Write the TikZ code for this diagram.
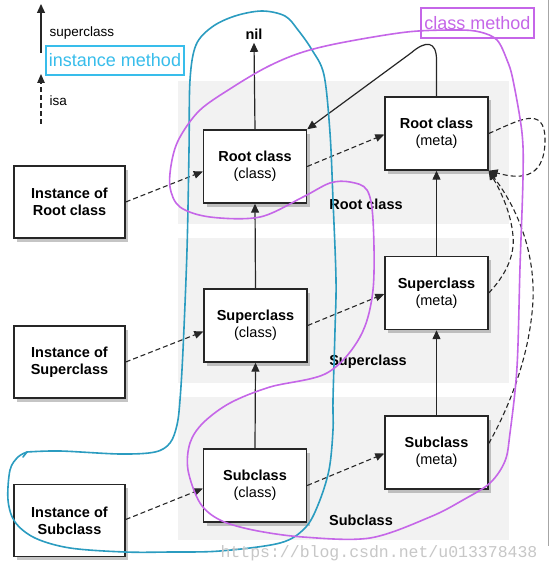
\documentclass[tikz,border=0pt]{standalone}
\usepackage{fontspec}
\setmainfont{Liberation Sans}
\newfontfamily\wmfont{Liberation Mono}
\usetikzlibrary{arrows.meta,shadows}
\definecolor{cmpurple}{HTML}{C566E8}
\definecolor{imblue}{HTML}{2B9CC0}
\definecolor{imcyan}{HTML}{38BDEB}
\definecolor{bandgray}{HTML}{F2F2F2}
\begin{document}
\begin{tikzpicture}[x=1pt,y=-1pt,
  cbox/.style={draw=black!85, line width=1.4pt, fill=white, align=center, inner sep=2pt,
    minimum width=103pt, minimum height=73pt,
    drop shadow={shadow xshift=3pt, shadow yshift=-3.5pt, opacity=0.45},
    font=\fontsize{14.5}{17}\selectfont},
  ibox/.style={cbox, minimum width=111pt, minimum height=72pt},
  lbl/.style={font=\fontsize{14.5}{17}\selectfont\bfseries},
  sup/.style={draw=black!85, line width=1.2pt, -{Triangle[length=9pt,width=8pt]}},
  isa/.style={draw=black!85, line width=1.1pt, dash pattern=on 5pt off 3pt, -{Triangle[length=9pt,width=7.5pt]}},
  hand/.style={line width=1.6pt, line cap=round, line join=round}
]
\fill[white] (0,0) rectangle (550,575);
\useasboundingbox (0,0) rectangle (550,575);
% bands
\fill[bandgray] (178,81) rectangle (509,224);
\fill[bandgray] (178,238) rectangle (509,383);
\fill[bandgray] (178,397) rectangle (509,540);
\draw[black!35, line width=1pt] (548.5,0) -- (548.5,546);
% band labels
\node[lbl] (lroot) at (366,204) {Root class};
\node[lbl] (lsuper) at (368,362) {Superclass};
\node[lbl] (lsub) at (361,520) {Subclass};
% legend
\coordinate (lsa) at (41,53);
\coordinate (lsb) at (41,4);
\draw[sup] (lsa) -- (lsb);
\coordinate (lia) at (41,124);
\coordinate (lib) at (41,74);
\draw[isa] (lia) -- (lib);
\node[anchor=west, font=\fontsize{13.5}{16}\selectfont] (tsup) at (46,33) {superclass};
\node[anchor=west, font=\fontsize{13.5}{16}\selectfont] (tisa) at (46,101) {isa};
\node[draw=imcyan, line width=1.6pt, text=imcyan, minimum width=138pt, minimum height=29pt, inner sep=1pt,
  font=\fontsize{18}{20}\selectfont] (im) at (115,60.5) {instance method};
\node[draw=cmpurple, line width=1.6pt, text=cmpurple, minimum width=113pt, minimum height=30pt, inner sep=1pt,
  font=\fontsize{18}{20}\selectfont] (cm) at (477.5,23) {class method};
% nodes
\node[ibox] (ir) at (69.5,202) {\textbf{Instance of}\\\textbf{Root class}};
\node[ibox] (is) at (69.5,362) {\textbf{Instance of}\\\textbf{Superclass}};
\node[ibox] (ib) at (69.5,520.5) {\textbf{Instance of}\\\textbf{Subclass}};
\node[cbox] (rc) at (255,166.5) {\textbf{Root class}\\(class)};
\node[cbox] (sc) at (255.5,325.5) {\textbf{Superclass}\\(class)};
\node[cbox] (bc) at (255,485.5) {\textbf{Subclass}\\(class)};
\node[cbox] (rm) at (436.5,133.5) {\textbf{Root class}\\(meta)};
\node[cbox] (sm) at (436.5,293) {\textbf{Superclass}\\(meta)};
\node[cbox] (bm) at (436.5,452.5) {\textbf{Subclass}\\(meta)};
\node[font=\fontsize{14.5}{17}\selectfont\bfseries] (nil) at (254,34) {nil};
% superclass arrows
\draw[sup] (rc.north) -- (nil.south);
\draw[sup] (sc.north) -- (rc.south);
\draw[sup] (bc.north) -- (sc.south);
\draw[sup] (sm.north) -- (rm.south);
\draw[sup] (bm.north) -- (sm.south);
\draw[sup] (rm.north) -- (436.5,60) .. controls (436.5,41) and (426,40) .. (411,53) -- (rc.north east);
% isa arrows
\draw[isa] (ir.east) -- ([yshift=-5pt]rc.west);
\draw[isa] (is.east) -- ([yshift=-6pt]sc.west);
\draw[isa] ([yshift=1pt]ib.east) -- ([yshift=-3pt]bc.west);
\draw[isa] (rc.east) -- ([yshift=-1pt]rm.west);
\draw[isa] (sc.east) -- ([yshift=-1pt]sm.west);
\draw[isa] (bc.east) -- ([yshift=-1pt]bm.west);
\draw[isa] (rm.east) .. controls (518,121) and (545,104) .. (545,140) .. controls (545,183) and (515,178) .. (rm.south east);
\draw[isa] (sm.east) .. controls (505,276) and (515,256) .. (513,236) .. controls (511,212) and (500,190) .. (rm.south east);
\draw[isa] ([yshift=9pt]bm.east) .. controls (505,415) and (530,360) .. (533,300) .. controls (535,248) and (515,205) .. (rm.south east);
% hand drawn loops
\draw[imblue, hand] plot[smooth, tension=0.55] coordinates {(27,452) (60,451) (120,454) (155,452) (170,443) (177,425) (180,400) (183,350) (187,250) (189,150) (190,80) (196,45) (212,27) (235,16) (262,11) (285,16) (298,30) (312,50) (324,75) (330,133) (333,200) (336,280) (335,330) (333,400) (333,430) (329,470) (318,505) (305,528) (280,543) (220,551) (170,552) (125,552) (70,548) (35,538) (15,522) (8,500) (10,470) (18,457) (27,452)};
\draw[imblue, hand] (27,452) -- (23,457);
\draw[cmpurple, hand] plot[smooth cycle, tension=0.55] coordinates {(373,290) (360,337) (327,373) (270,387) (230,403) (203,423) (190,443) (188,470) (200,503) (220,520) (253,530) (303,537) (370,538) (430,517) (463,500) (490,483) (505,461) (510,433) (517,367) (520,267) (523,177) (522,133) (513,80) (507,60) (497,40) (480,32) (457,30) (407,32) (340,43) (300,53) (267,67) (233,87) (200,110) (180,137) (172,160) (170,187) (180,207) (210,217) (260,217) (303,197) (330,183) (350,182) (367,190) (373,220)};
% watermark
\node[text=black!22, font=\wmfont\fontsize{16.5}{18}\selectfont] (wm) at (379,553) {https://blog.csdn.net/u013378438};
\end{tikzpicture}
\end{document}
